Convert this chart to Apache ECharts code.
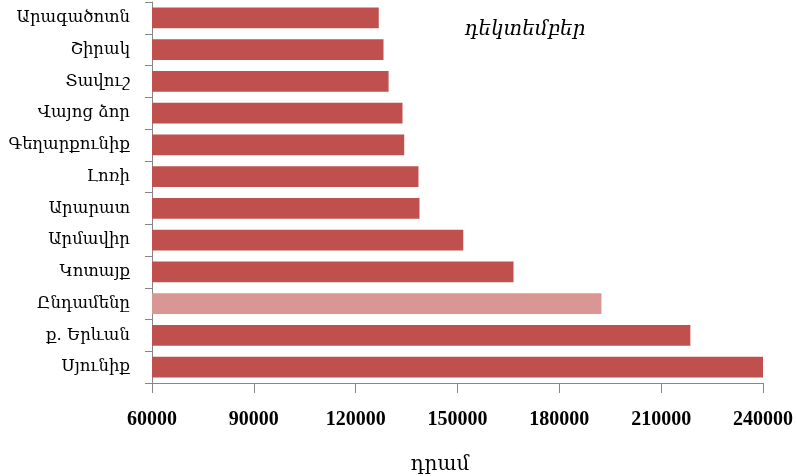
<!DOCTYPE html>
<html><head><meta charset="utf-8">
<script src="https://cdn.jsdelivr.net/npm/echarts@6/dist/echarts.min.js"></script>
<style>html,body{margin:0;padding:0;background:#fff}#c{width:797px;height:476px}</style>
</head><body><div id="c"></div>
<script>
const categories = ['Սյունիք','ք. Երևան','Ընդամենը','Կոտայք','Արմավիր','Արարատ','Լոռի','Գեղարքունիք','Վայոց ձոր','Տավուշ','Շիրակ','Արագածոտն'];
const values = [240000, 218600, 192400, 166500, 151700, 138800, 138500, 134300, 133800, 129700, 128200, 126800];
const highlighted = 'Ընդամենը';
const chartTitle = 'դեկտեմբեր';
const axisTitle = 'դրամ';

const chart = echarts.init(document.getElementById('c'));
chart.setOption({
  animation: false,
  title: [
    {text: chartTitle, left: 520, top: 15, textAlign: 'center',
     textStyle: {fontFamily: 'DejaVu Serif', fontStyle: 'italic', fontWeight: 'normal', fontSize: 20, color: '#000'}},
    {text: axisTitle, left: 435, top: 450, textAlign: 'center',
     textStyle: {fontFamily: 'DejaVu Serif', fontWeight: 'normal', fontSize: 20, color: '#000'}}
  ],
  grid: {left: 152, right: 34, top: 2, bottom: 93},
  xAxis: {
    type: 'value', min: 60000, max: 240000, interval: 30000,
    axisLine: {show: true, lineStyle: {color: '#868686'}},
    axisTick: {show: true, length: 10, lineStyle: {color: '#868686'}},
    splitLine: {show: false},
    axisLabel: {margin: 27, fontFamily: 'Liberation Serif', fontWeight: 'bold', fontSize: 20, color: '#000',
      formatter: v => String(v)}
  },
  yAxis: {
    type: 'category', data: categories,
    axisLine: {show: true, lineStyle: {color: '#868686'}},
    axisTick: {show: true, length: 7, lineStyle: {color: '#868686'}},
    axisLabel: {margin: 22, fontFamily: 'DejaVu Serif', fontSize: 16.5, color: '#000'}
  },
  series: [{
    type: 'bar', barCategoryGap: '34%',
    data: values.map((v, i) => ({value: v, itemStyle: {color: categories[i] === highlighted ? '#D99694' : '#C0504D'}}))
  }]
});
</script></body></html>
